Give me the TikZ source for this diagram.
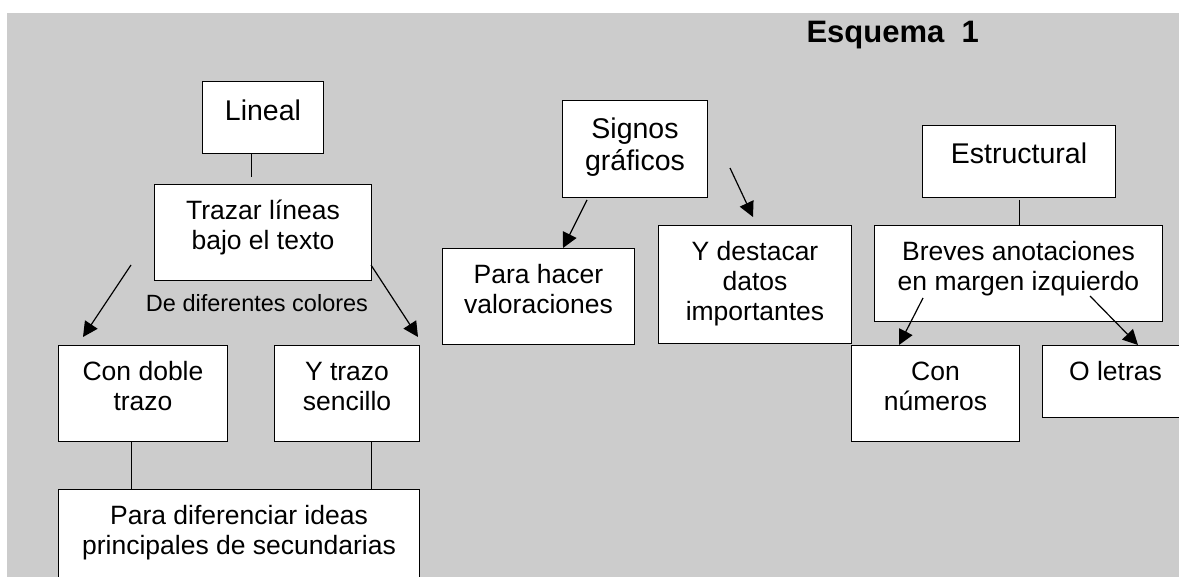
\documentclass[tikz,border=0pt]{standalone}
\usepackage{fontspec}
\setmainfont{Liberation Sans}
\usetikzlibrary{arrows.meta}
\tikzset{
  caja/.style={draw,fill=white,line width=1pt,anchor=north west,inner sep=0pt,align=center,
    text height=35pt,font=\fontsize{26.5}{30}\selectfont},
  cabeza/.style={caja,text height=38pt,font=\fontsize{28.5}{32}\selectfont},
  doslineas/.style={text height=65pt,text depth=#1},
  flecha/.style={-{Triangle[length=15pt,width=15pt]},line width=1.2pt}
}
\begin{document}
\begin{tikzpicture}[x=1pt,y=-1pt]
  \useasboundingbox (0,0) rectangle (1179,577);
  \clip (0,0) rectangle (1179,577);
  \fill[black!20] (7,13) rectangle (1179,577);
  \node[anchor=base west,font=\fontsize{31}{36}\selectfont\bfseries] (titulo) at (803,43) {Esquema\ \ 1};
  % lineal
  \node[cabeza,minimum width=121pt,text height=39pt,text depth=33pt] (lineal) at (202,81) {Lineal};
  \node[caja,minimum width=217pt,doslineas=31pt] (trazar) at (154,184) {Trazar líneas\\bajo el texto};
  \node[anchor=base,font=\fontsize{23.5}{27}\selectfont] (colores) at (257,312) {De diferentes colores};
  \node[caja,minimum width=169pt,doslineas=31pt] (doble) at (58,345) {Con doble\\trazo};
  \node[caja,minimum width=145pt,doslineas=31pt] (sencillo) at (274,345) {Y trazo\\sencillo};
  \node[caja,minimum width=361pt,doslineas=45pt] (diferenciar) at (58,489) {Para diferenciar ideas\\principales de secundarias};
  \coordinate (a1) at (251,177);
  \coordinate (a2) at (131,265);
  \coordinate (a3) at (83,337);
  \coordinate (a4) at (371,265);
  \coordinate (a5) at (418,337);
  \draw[line width=1pt] (lineal.south -| a1) -- (a1);
  \draw[flecha] (a2) -- (a3);
  \draw[flecha] (a4) -- (a5);
  \draw[line width=1pt] (doble.south -| 131,0) -- (diferenciar.north -| 131,0);
  \draw[line width=1pt] (sencillo.south -| 371,0) -- (diferenciar.north -| 371,0);
  % signos graficos
  \node[cabeza,minimum width=145pt,text height=70pt,text depth=27pt] (signos) at (562,100) {Signos\\gráficos};
  \node[caja,minimum width=192pt,doslineas=31pt] (valorar) at (442,248) {Para hacer\\valoraciones};
  \node[caja,minimum width=193pt,text height=95pt,text depth=23pt] (destacar) at (658,225) {Y destacar\\datos\\importantes};
  \coordinate (b1) at (587,200);
  \coordinate (b2) at (730,168);
  \coordinate (b3) at (753,217);
  \draw[flecha] (b1) -- (valorar.north -| 563,0);
  \draw[flecha] (b2) -- (b3);
  % estructural
  \node[cabeza,minimum width=193pt,text depth=34pt] (estructural) at (922,125) {Estructural};
  \node[caja,minimum width=288pt,doslineas=31pt] (breves) at (874,225) {Breves anotaciones\\en margen izquierdo};
  \node[caja,minimum width=168pt,doslineas=31pt] (numeros) at (851,345) {Con\\números};
  \node[caja,minimum width=146pt,text depth=37pt] (letras) at (1042,345) {O letras};
  \coordinate (c1) at (1019,200);
  \coordinate (c2) at (923,298);
  \coordinate (c3) at (1090,296);
  \draw[line width=1pt] (c1) -- (breves.north -| c1);
  \draw[flecha] (c2) -- (numeros.north -| 899,0);
  \draw[flecha] (c3) -- (letras.north -| 1138,0);
\end{tikzpicture}
\end{document}
